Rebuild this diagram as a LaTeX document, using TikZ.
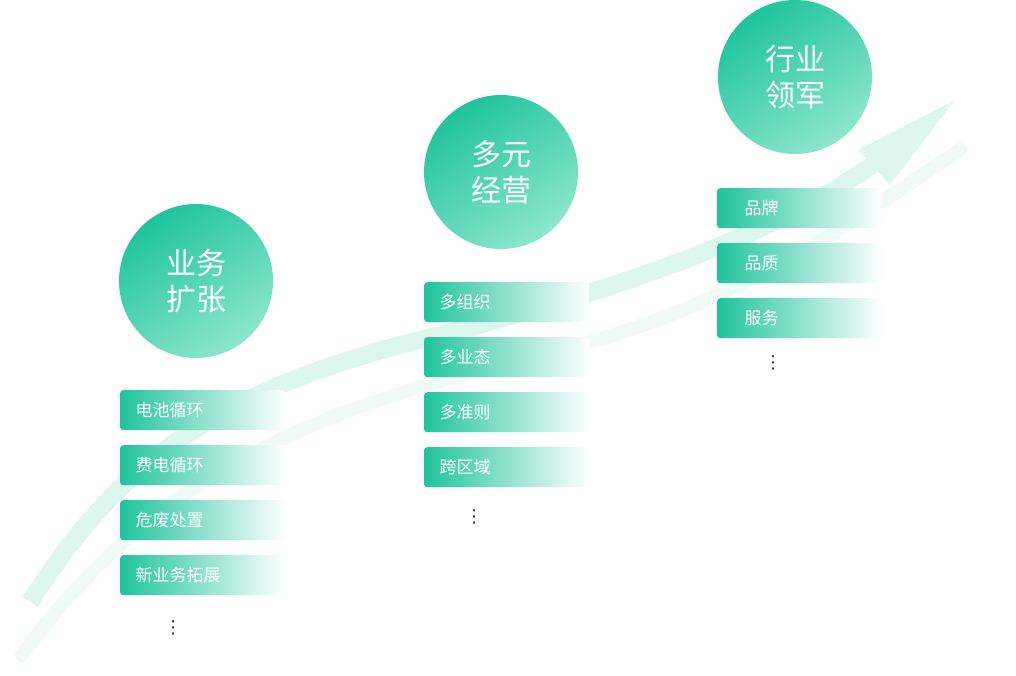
\documentclass[tikz,border=0pt]{standalone}
\usepackage{fontspec}
\newfontfamily\cjk{Noto Sans CJK SC}
\newfontfamily\dejavu{DejaVu Sans}
\definecolor{teal1}{HTML}{1FC49C}
\definecolor{teal2}{HTML}{A8EFDA}
\definecolor{mint}{HTML}{DDF6EE}
\tikzset{
 bigc/.style={circle,minimum size=154pt,inner sep=0pt,shading=axis,top color=teal1,bottom color=teal2!80!teal1,shading angle=35,text=white,font=\cjk\fontsize{30}{36}\selectfont,align=center},
 tag/.style={minimum width=165pt,minimum height=40pt,inner sep=0pt,rounded corners=3pt,left color=teal1,right color=white,middle color=teal1!50!white,text=white,font=\cjk\fontsize{17}{20}\selectfont},
 vdots/.style={font=\dejavu\fontsize{18}{18}\selectfont,text=black!80}
}
\begin{document}
\begin{tikzpicture}[x=1pt,y=-1pt]
\useasboundingbox (0,0) rectangle (1016,675);
\draw[mint!45,line width=14pt,line cap=round] (22,655) .. controls (150,480) and (300,410) .. (560,350) .. controls (760,300) and (880,200) .. (960,150);
\draw[mint,line width=18pt] (30,602) .. controls (120,460) and (220,390) .. (420,340) .. controls (640,285) and (780,230) .. (872,165);
\fill[mint] (955,100) -- (858,150) -- (890,185) -- cycle;
\node[bigc] (c1) at (196,281) {业务\\扩张};
\node[bigc] (c2) at (501,172) {多元\\经营};
\node[bigc] (c3) at (795,77) {行业\\领军};
\foreach \t [count=\i] in {电池循环,费电循环,危废处置,新业务拓展}
  \node[tag,anchor=north west] (a\i) at (120,{390+55*(\i-1)}) {};
\foreach \t [count=\i] in {电池循环,费电循环,危废处置,新业务拓展}
  \node[text=white,font=\cjk\fontsize{17}{20}\selectfont,anchor=west] (ta\i) at (132,{410+55*(\i-1)}) {\t};
\foreach \t [count=\i] in {多组织,多业态,多准则,跨区域}
  \node[tag,anchor=north west] (b\i) at (424,{282+55*(\i-1)}) {};
\foreach \t [count=\i] in {多组织,多业态,多准则,跨区域}
  \node[text=white,font=\cjk\fontsize{17}{20}\selectfont,anchor=west] (tb\i) at (436,{302+55*(\i-1)}) {\t};
\foreach \t [count=\i] in {品牌,品质,服务}
  \node[tag,anchor=north west] (d\i) at (717,{188+55*(\i-1)}) {};
\foreach \t [count=\i] in {品牌,品质,服务}
  \node[text=white,font=\cjk\fontsize{17}{20}\selectfont,anchor=west] (td\i) at (741,{208+55*(\i-1)}) {\t};
\node[vdots] (v1) at (173,628) {⋮};
\node[vdots] (v2) at (474,517) {⋮};
\node[vdots] (v3) at (773,363) {⋮};
\end{tikzpicture}
\end{document}
